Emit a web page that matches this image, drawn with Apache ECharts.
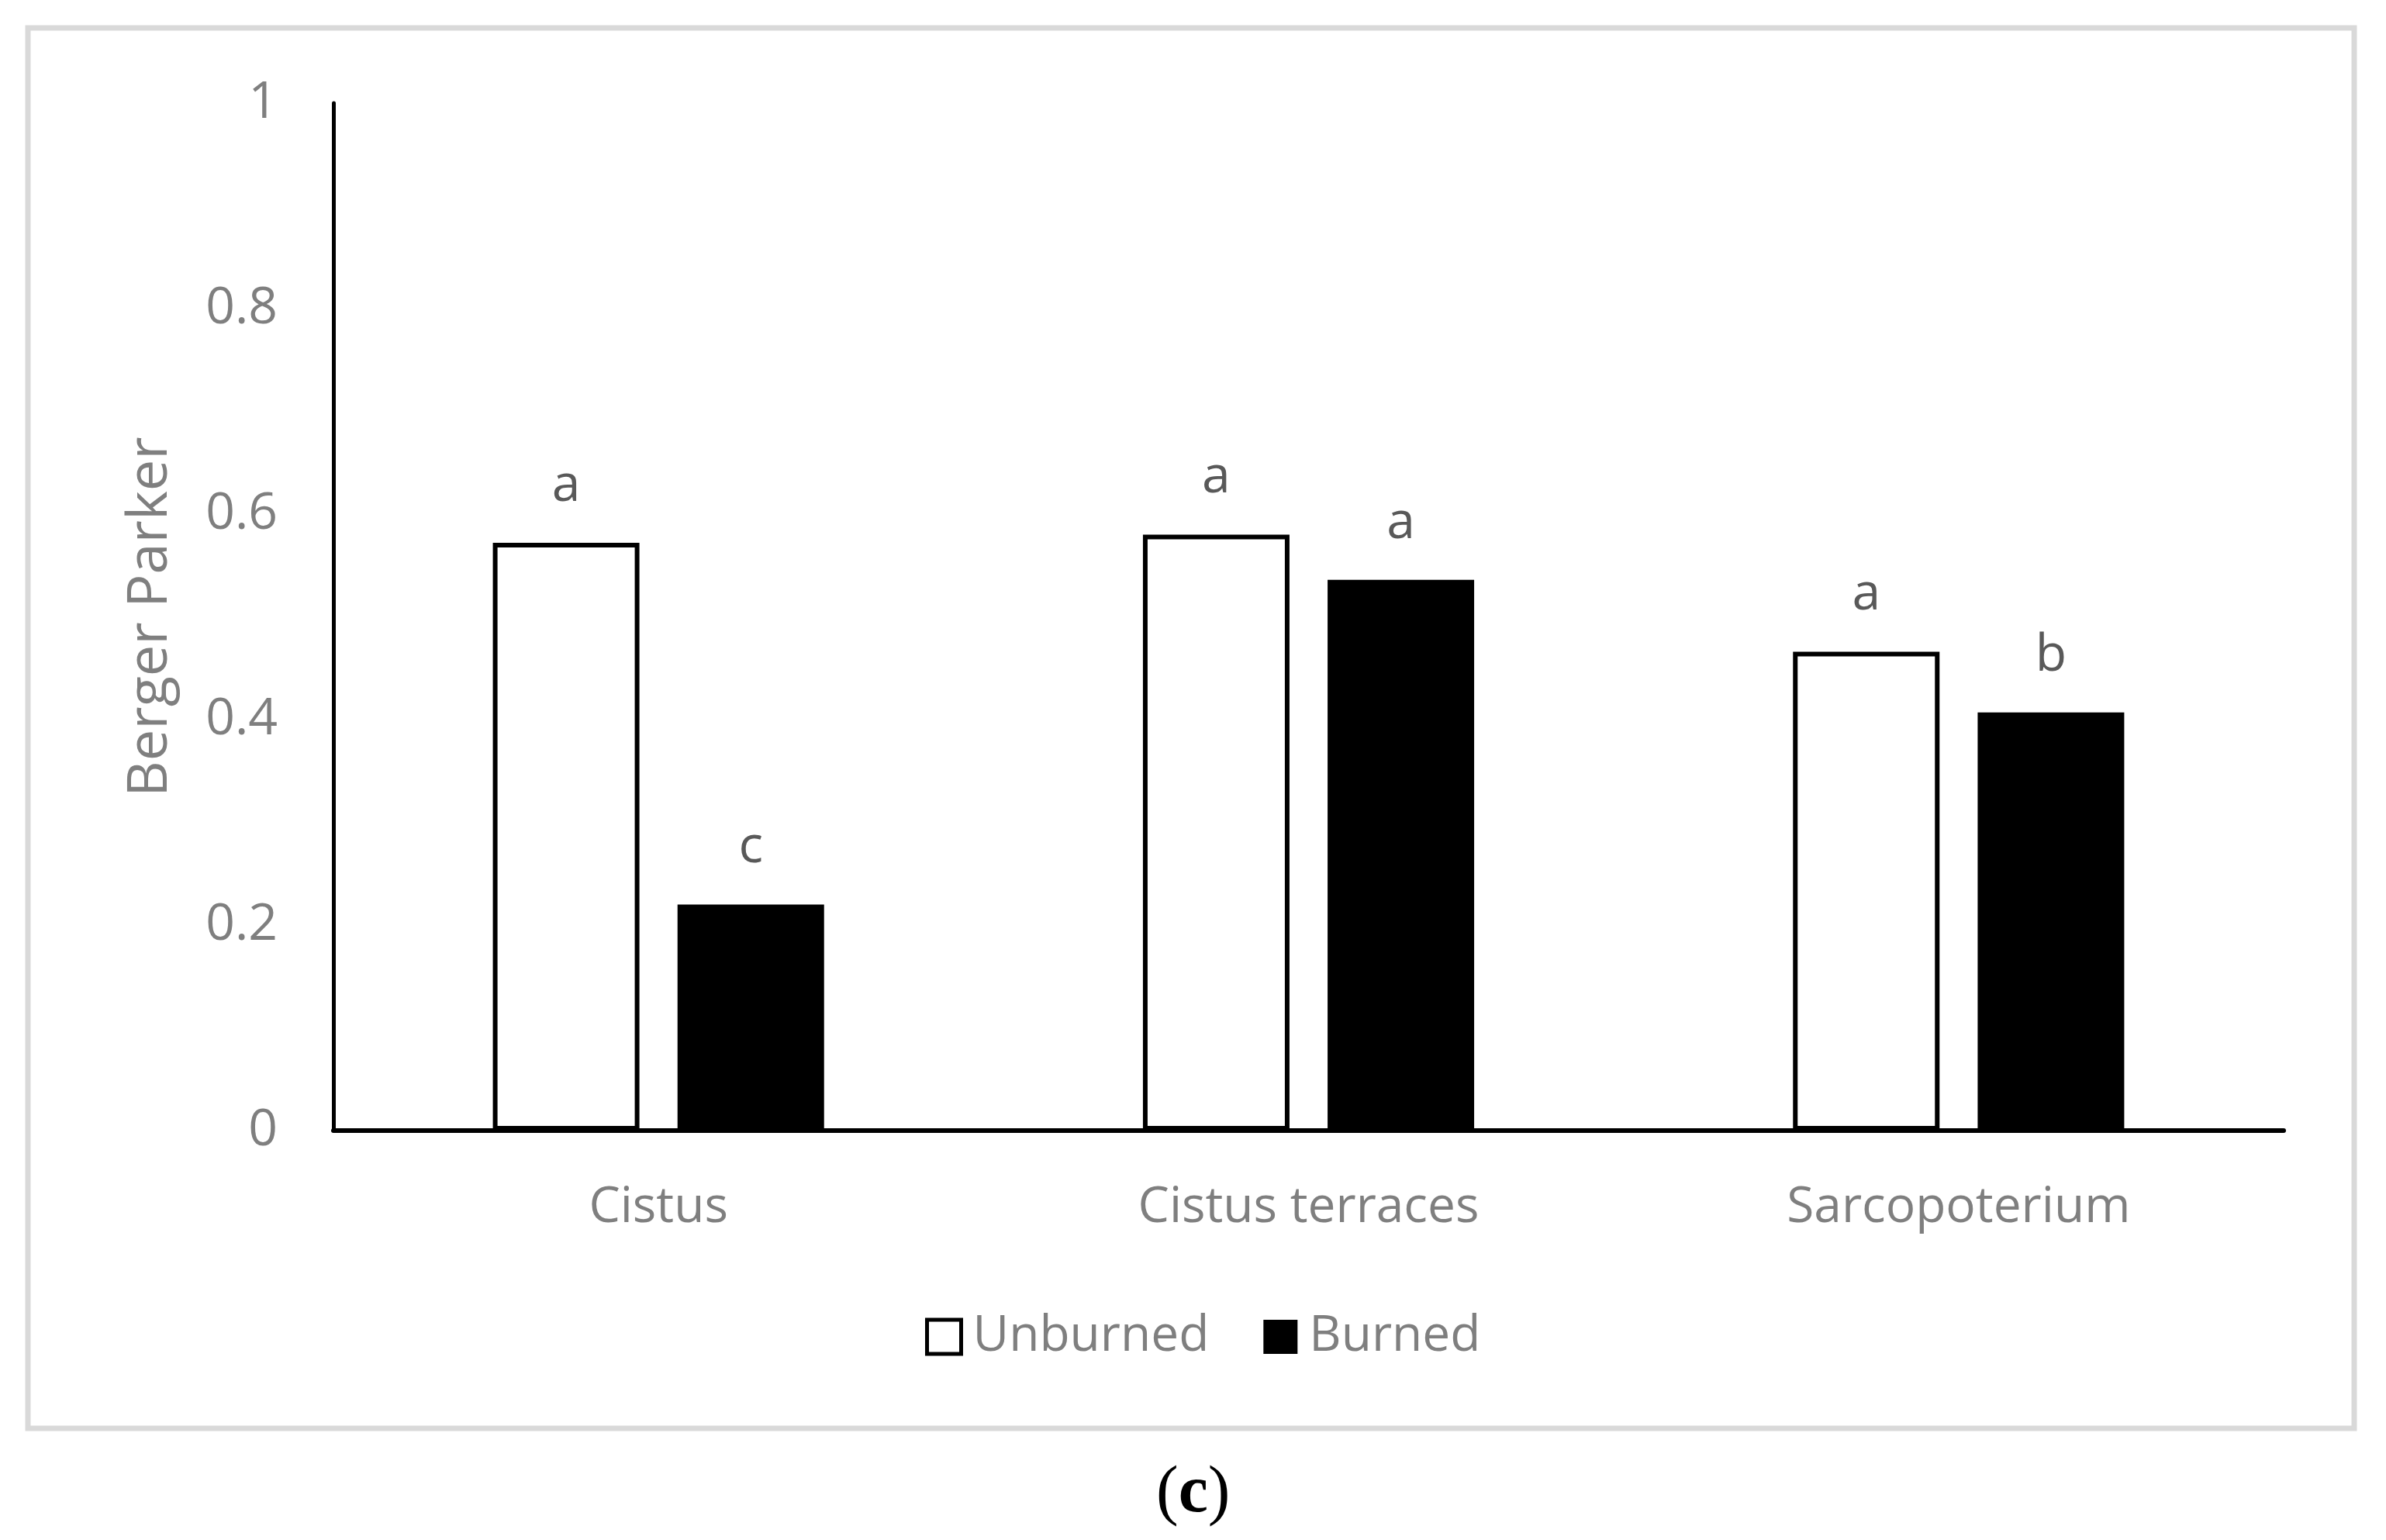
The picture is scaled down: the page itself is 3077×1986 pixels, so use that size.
<!DOCTYPE html>
<html>
<head>
<meta charset="utf-8">
<script src="https://cdn.jsdelivr.net/npm/echarts@6/dist/echarts.min.js"></script>
<style>
html,body{margin:0;padding:0;background:#fff;}
#chart{width:3077px;height:1986px;}
</style>
</head>
<body>
<div id="chart"></div>
<script>
const categories = ['Cistus', 'Cistus terraces', 'Sarcopoterium'];
const unburned = [0.572, 0.580, 0.466];
const burned = [0.220, 0.536, 0.407];
const unburnedLetters = ['a', 'a', 'a'];
const burnedLetters = ['c', 'a', 'b'];
const yTicks = { min: 0, max: 1, interval: 0.2 };
const yTitle = 'Berger Parker';
const captionLetter = 'c';

const chart = echarts.init(document.getElementById('chart'), null, { renderer: 'canvas' });
const FONT = '"Open Sans", "Noto Sans", sans-serif';
const GRAY = '#7f7f7f';

const labelStyle = (letters) => ({
  show: true,
  position: 'top',
  distance: 40,
  color: '#595959',
  fontFamily: FONT,
  fontSize: 66,
  formatter: (p) => letters[p.dataIndex]
});

chart.setOption({
  animation: false,
  backgroundColor: '#fff',
  grid: { left: 430, right: 132, top: 133, bottom: 528, containLabel: false },
  legend: {
    left: 1188,
    top: 1687,
    itemWidth: 44,
    itemHeight: 44,
    itemGap: 70,
    icon: 'rect',
    textStyle: { color: GRAY, fontFamily: FONT, fontSize: 64, padding: [0, 0, 0, 10] },
    data: [
      { name: 'Unburned', itemStyle: { color: '#fff', borderColor: '#000', borderWidth: 5 } },
      { name: 'Burned', itemStyle: { color: '#000', borderWidth: 0 } }
    ]
  },
  xAxis: {
    type: 'category',
    data: categories,
    axisLine: { show: true, lineStyle: { color: '#000', width: 6 } },
    axisTick: { show: false },
    axisLabel: { color: GRAY, fontFamily: FONT, fontSize: 64, margin: 68 },
    splitLine: { show: false }
  },
  yAxis: {
    type: 'value',
    min: yTicks.min,
    max: yTicks.max,
    interval: yTicks.interval,
    name: yTitle,
    nameLocation: 'middle',
    nameGap: 200,
    nameRotate: 90,
    nameTextStyle: { color: GRAY, fontFamily: FONT, fontSize: 72 },
    axisLine: { show: true, lineStyle: { color: '#000', width: 5 } },
    axisTick: { show: false },
    splitLine: { show: false },
    axisLabel: { color: GRAY, fontFamily: FONT, fontSize: 66, margin: 72 }
  },
  series: [
    {
      name: 'Unburned',
      type: 'bar',
      data: unburned,
      barWidth: 189,
      barGap: '26%',
      itemStyle: { color: '#fff', borderColor: '#000', borderWidth: 6 },
      label: labelStyle(unburnedLetters)
    },
    {
      name: 'Burned',
      type: 'bar',
      data: burned,
      barWidth: 189,
      barGap: '26%',
      itemStyle: { color: '#000' },
      label: labelStyle(burnedLetters)
    }
  ],
  graphic: [
    {
      type: 'rect',
      shape: { x: 36, y: 36, width: 3000, height: 1806 },
      style: { fill: 'none', stroke: '#d9d9d9', lineWidth: 7 },
      silent: true
    },
    {
      type: 'text',
      left: 1535 - 44,
      top: 1934 - 50,
      style: {
        text: '{p|(}{c|' + captionLetter + '}{p|)}',
        rich: {
          p: { fill: '#000', fontFamily: '"Liberation Serif", "DejaVu Serif", serif', fontSize: 86 },
          c: { fill: '#000', fontFamily: '"Liberation Serif", "DejaVu Serif", serif', fontSize: 86, fontWeight: 'bold' }
        }
      }
    }
  ]
});
</script>
</body>
</html>
